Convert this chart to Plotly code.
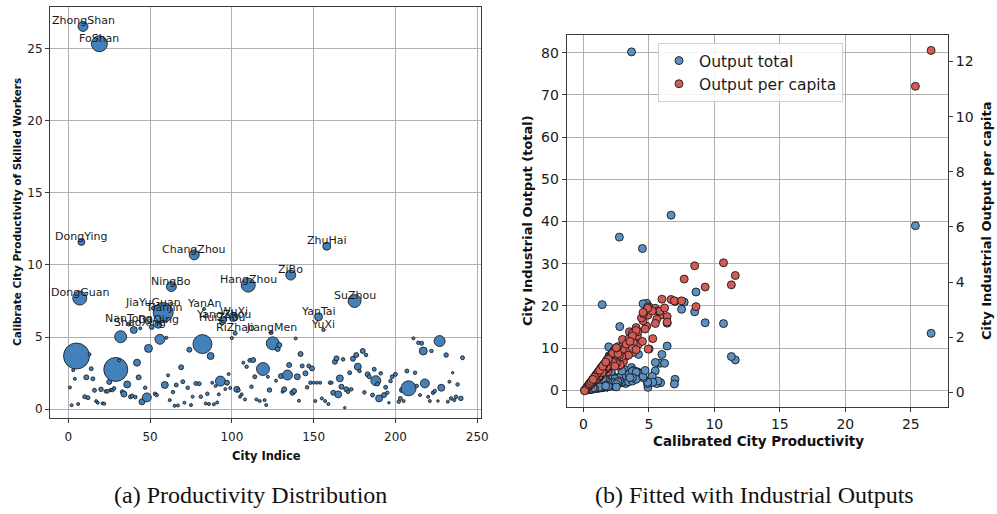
import math
import plotly.graph_objects as go

# ---------------------------------------------------------------------------
# City data: index, calibrated productivity, population weight (bubble size),
# total industrial output and industrial output per capita.
# ---------------------------------------------------------------------------
city_idx = [
    1, 2, 3, 4, 5, 6, 7, 8, 9, 10,
    11, 12, 13, 14, 15, 16, 17, 18, 19, 20,
    21, 22, 23, 24, 25, 26, 27, 28, 29, 31,
    32, 33, 34, 36, 37, 38, 39, 40, 41, 42,
    43, 44, 45, 47, 48, 49, 51, 52, 53, 54,
    55, 56, 58, 59, 60, 61, 62, 63, 64, 65,
    66, 67, 69, 70, 71, 73, 74, 75, 76, 77,
    78, 80, 81, 82, 83, 84, 85, 86, 87, 88,
    89, 90, 91, 92, 93, 94, 95, 96, 97, 98,
    99, 100, 101, 102, 103, 104, 105, 106, 107, 108,
    109, 110, 111, 112, 113, 114, 115, 117, 119, 120,
    121, 122, 123, 124, 125, 127, 128, 129, 130, 131,
    132, 134, 135, 136, 137, 138, 139, 140, 141, 142,
    143, 145, 146, 147, 148, 149, 150, 151, 152, 153,
    154, 155, 156, 157, 158, 159, 160, 161, 162, 163,
    164, 165, 166, 167, 168, 169, 170, 171, 172, 173,
    174, 175, 176, 177, 178, 180, 181, 182, 183, 184,
    186, 187, 188, 189, 190, 191, 193, 194, 195, 196,
    197, 198, 200, 202, 203, 204, 205, 207, 208, 211,
    212, 213, 214, 215, 216, 217, 218, 220, 221, 222,
    223, 224, 226, 227, 228, 231, 232, 233, 234, 235,
    236, 237, 238, 240, 241,
]

city_prod = [
    1.50, 0.27, 2.70, 2.10, 3.68, 0.35, 7.70, 11.60, 26.55, 0.86,
    2.20, 0.79, 3.80, 2.80, 2.10, 1.30, 0.55, 0.44, 25.35, 1.37,
    0.40, 0.37, 1.23, 1.23, 1.88, 1.32, 1.32, 1.44, 2.75, 3.38,
    5.02, 1.20, 1.04, 1.71, 5.90, 0.85, 0.92, 5.49, 0.83, 3.22,
    2.20, 5.60, 0.50, 1.48, 0.81, 4.21, 5.70, 7.00, 1.06, 0.97,
    5.85, 4.84, 6.70, 1.67, 4.95, 2.34, 0.62, 8.50, 1.18, 0.23,
    1.67, 0.25, 2.90, 1.90, 0.44, 1.48, 4.12, 0.28, 0.86, 10.70,
    1.78, 1.76, 0.86, 4.51, 6.95, 0.39, 1.06, 0.35, 3.68, 1.83,
    0.33, 1.60, 0.46, 1.02, 1.94, 6.00, 6.20, 1.39, 1.83, 2.43,
    1.46, 4.93, 6.40, 5.26, 1.37, 1.30, 0.86, 1.02, 3.22, 0.67,
    2.94, 8.60, 3.38, 1.55, 3.40, 2.24, 0.67, 0.56, 2.78, 0.62,
    0.28, 2.24, 1.32, 5.30, 4.56, 1.97, 4.17, 4.44, 2.29, 1.20,
    1.37, 2.36, 3.06, 9.30, 1.13, 1.25, 4.90, 2.24, 0.58, 3.82,
    2.99, 2.48, 1.51, 2.99, 1.83, 2.82, 1.83, 0.56, 1.83, 6.40,
    1.83, 0.74, 5.50, 0.56, 11.30, 0.35, 1.83, 1.83, 1.13, 3.28,
    3.52, 1.02, 2.13, 1.55, 3.45, 0.09, 1.37, 1.20, 2.52, 1.37,
    3.49, 7.50, 3.75, 2.94, 2.64, 4.03, 1.16, 3.75, 2.41, 2.24,
    0.97, 2.76, 1.97, 1.74, 0.74, 2.48, 0.97, 1.51, 1.13, 0.44,
    1.94, 2.24, 2.41, 0.51, 0.74, 1.32, 0.56, 2.64, 1.44, 4.91,
    2.52, 1.60, 4.60, 0.97, 4.56, 4.03, 1.78, 0.85, 0.56, 4.03,
    1.13, 1.25, 0.56, 4.72, 1.48, 3.75, 0.51, 1.90, 0.74, 2.52,
    0.62, 0.85, 1.71, 0.74, 3.56,
]

city_pop = [
    1.1, 1.1, 1.1, 1.1, 80.4, 1.1, 23.3, 5.8, 11.9, 1.9,
    3.0, 1.9, 1.1, 1.9, 1.9, 1.9, 1.1, 1.1, 30.4, 2.4,
    1.1, 1.1, 1.5, 1.5, 3.0, 1.5, 1.5, 1.5, 68.5, 1.1,
    17.1, 1.9, 4.3, 5.8, 1.9, 1.9, 1.5, 5.8, 1.5, 5.8,
    3.0, 1.1, 4.3, 1.5, 9.6, 7.6, 3.0, 1.9, 1.5, 1.5,
    5.8, 11.9, 47.6, 5.8, 1.1, 1.1, 1.1, 11.9, 1.5, 1.1,
    1.9, 1.1, 3.0, 1.9, 1.1, 1.5, 3.0, 1.1, 1.1, 11.9,
    1.9, 1.9, 1.5, 43.0, 1.1, 1.1, 1.5, 1.1, 5.8, 1.1,
    1.1, 1.1, 1.1, 1.1, 11.9, 3.0, 4.3, 1.1, 3.0, 1.1,
    1.1, 1.1, 9.6, 1.9, 4.3, 1.5, 1.1, 1.1, 1.1, 1.1,
    1.5, 23.3, 1.9, 1.5, 3.0, 1.9, 1.1, 1.1, 20.0, 1.1,
    1.1, 1.1, 2.4, 1.9, 20.0, 1.1, 3.0, 3.0, 3.0, 1.1,
    3.0, 11.9, 3.0, 11.9, 3.0, 3.0, 1.1, 4.3, 1.1, 3.0,
    1.9, 3.0, 1.5, 1.9, 1.5, 3.0, 1.1, 1.1, 1.1, 7.6,
    1.1, 1.1, 1.5, 1.1, 7.6, 1.1, 1.5, 1.1, 3.0, 3.0,
    3.0, 5.8, 5.8, 3.0, 1.5, 0.75, 3.0, 1.5, 1.9, 1.5,
    3.0, 20.0, 3.0, 5.8, 1.5, 3.0, 1.5, 1.5, 3.0, 1.9,
    1.9, 1.9, 11.9, 1.9, 5.8, 1.5, 3.0, 1.9, 1.5, 0.75,
    1.5, 1.9, 1.9, 1.5, 1.9, 3.0, 1.1, 1.9, 26.8, 1.1,
    1.5, 1.5, 1.5, 1.1, 1.9, 7.6, 9.6, 1.1, 1.1, 1.5,
    1.5, 1.5, 0.75, 14.4, 5.8, 2.4, 1.1, 1.1, 1.5, 0.75,
    1.1, 1.5, 1.5, 2.4, 1.9,
]

out_total = [
    1.2, 0.2, 2.1, 1.6, 80.2, 0.3, 20.9, 7.2, 13.5, 0.6,
    2.9, 0.5, 2.6, 3.2, 1.9, 1.2, 0.3, 0.3, 39.0, 1.5,
    0.2, 0.2, 0.9, 1.1, 2.4, 1.0, 0.8, 1.3, 36.3, 2.2,
    9.8, 1.1, 1.9, 3.5, 1.8, 0.7, 0.5, 4.6, 0.6, 4.8,
    2.5, 1.6, 0.9, 0.9, 2.1, 8.5, 2.2, 2.6, 0.6, 0.7,
    6.4, 20.6, 41.5, 3.3, 1.3, 1.0, 0.4, 18.6, 0.8, 0.1,
    1.3, 0.1, 2.6, 1.5, 0.3, 0.9, 4.4, 0.2, 0.4, 15.8,
    1.4, 1.2, 0.5, 33.6, 1.5, 0.2, 0.8, 0.2, 5.4, 0.8,
    0.2, 0.7, 0.3, 0.5, 10.3, 8.5, 6.4, 0.6, 2.0, 1.1,
    0.7, 0.7, 10.5, 3.3, 1.9, 0.8, 0.4, 0.5, 1.6, 0.3,
    1.8, 23.3, 2.4, 1.0, 3.8, 1.7, 0.3, 0.3, 15.1, 0.3,
    0.1, 1.0, 1.4, 1.9, 20.5, 0.9, 4.2, 3.9, 2.6, 0.5,
    1.8, 8.8, 3.6, 16.0, 1.4, 1.6, 1.6, 3.4, 0.3, 4.7,
    2.3, 2.9, 0.9, 2.1, 1.1, 3.1, 0.8, 0.3, 0.9, 15.9,
    0.8, 0.3, 6.6, 0.3, 8.0, 0.2, 1.0, 0.8, 1.4, 3.4,
    3.5, 2.0, 4.4, 1.9, 2.0, 0.05, 1.7, 0.8, 1.9, 0.9,
    3.8, 19.2, 4.5, 4.6, 1.7, 4.3, 0.8, 2.2, 2.7, 1.6,
    0.8, 2.2, 8.2, 1.3, 1.5, 1.6, 1.1, 1.2, 0.7, 0.2,
    1.1, 1.8, 1.9, 0.3, 0.5, 1.5, 0.3, 2.0, 20.3, 1.9,
    1.5, 1.0, 2.9, 0.4, 3.3, 11.9, 4.2, 0.4, 0.3, 2.6,
    0.7, 0.8, 0.2, 4.7, 2.8, 3.0, 0.3, 0.9, 0.4, 0.8,
    0.3, 0.5, 1.0, 0.6, 3.0,
]

out_pc = [
    0.95, 0.18, 0.95, 1.30, 2.05, 0.22, 4.11, 4.24, 12.40, 0.45,
    1.38, 0.48, 1.45, 1.25, 0.95, 0.82, 0.36, 0.22, 11.10, 0.88,
    0.26, 0.20, 0.80, 0.55, 0.75, 0.85, 0.62, 0.93, 1.05, 1.40,
    3.10, 0.76, 0.50, 1.10, 2.80, 0.55, 0.45, 3.05, 0.50, 1.55,
    1.05, 2.65, 0.30, 0.95, 0.52, 1.75, 2.95, 3.30, 0.68, 0.45,
    2.95, 2.40, 3.37, 1.06, 1.57, 1.50, 0.40, 4.59, 0.60, 0.15,
    1.05, 0.16, 1.15, 0.95, 0.29, 0.90, 2.05, 0.18, 0.54, 4.70,
    1.15, 0.85, 0.56, 1.85, 3.32, 0.25, 0.67, 0.22, 1.70, 1.18,
    0.20, 0.80, 0.30, 0.65, 1.24, 3.38, 3.06, 0.88, 0.90, 1.55,
    0.94, 2.80, 2.75, 2.95, 0.70, 0.84, 0.55, 0.50, 1.30, 0.43,
    1.45, 3.11, 1.90, 1.00, 1.50, 1.45, 0.42, 0.35, 1.20, 0.30,
    0.18, 1.40, 0.86, 1.95, 2.60, 1.00, 2.20, 2.70, 1.25, 0.77,
    0.65, 1.52, 1.10, 3.82, 0.72, 0.60, 3.10, 1.43, 0.37, 1.80,
    1.55, 1.20, 0.97, 1.92, 1.16, 1.00, 0.90, 0.36, 1.15, 2.55,
    1.18, 0.47, 2.50, 0.28, 3.90, 0.22, 1.14, 0.95, 0.73, 1.75,
    2.20, 0.66, 1.36, 0.99, 1.35, 0.06, 0.88, 0.60, 1.05, 0.87,
    1.95, 3.32, 1.60, 1.30, 1.66, 2.35, 0.74, 2.15, 1.52, 1.10,
    0.62, 1.35, 1.28, 1.10, 0.47, 1.57, 0.63, 0.75, 0.73, 0.28,
    1.24, 1.42, 0.95, 0.33, 0.48, 0.83, 0.36, 1.40, 0.72, 3.05,
    1.61, 1.02, 2.85, 0.62, 2.90, 2.25, 1.12, 0.54, 0.36, 1.55,
    0.72, 0.80, 0.36, 2.30, 0.95, 2.05, 0.33, 1.20, 0.47, 1.62,
    0.40, 0.55, 1.10, 0.47, 1.85,
]

# Named cities annotated on the productivity panel (keyed by city index)
city_labels = {
    9: "ZhongShan", 19: "FoShan", 8: "DongYing", 77: "ChangZhou",
    158: "ZhuHai", 136: "ZiBo", 63: "NingBo", 110: "HangZhou",
    7: "DongGuan", 175: "SuZhou", 52: "JiaYuGuan", 58: "TianJin",
    83: "YanAn", 101: "WuXi", 94: "HuiZhou", 95: "YangZhou",
    102: "RiZhao", 124: "JiangMen", 37: "NanTong", 55: "DaQing",
    44: "ShaoXing", 153: "YanTai", 156: "YuXi",
}

idx_ticks = [0, 50, 100, 150, 200, 250]
prod_ticks = [0, 5, 10, 15, 20, 25]
total_ticks = [0, 10, 20, 30, 40, 50, 60, 70, 80]
pc_ticks = [0, 2, 4, 6, 8, 10, 12]
calib_ticks = [0, 5, 10, 15, 20, 25]

W, H = 997, 514
FONT = "DejaVu Sans"
SERIF = "Liberation Serif"
GRID = "#b0b0b0"
SPINE = "#3a3a3a"


def px_x(p):
    return p / W


def px_y(p):
    return 1 - p / H


bubble_size = [2.9 * math.sqrt(p) for p in city_pop]

fig = go.Figure()

# (a) productivity of each city, bubble area ~ population
fig.add_trace(go.Scatter(
    x=city_idx, y=city_prod, mode="markers", showlegend=False,
    marker=dict(size=bubble_size, sizemode="diameter", color="#4480b9",
                opacity=1, line=dict(color="#111111", width=0.8)),
    xaxis="x", yaxis="y", hoverinfo="skip",
))

# (b) total output (left axis) and output per capita (right axis)
fig.add_trace(go.Scatter(
    x=city_prod, y=out_total, mode="markers", name="Output total",
    marker=dict(size=8, color="#5d90c2", opacity=1,
                line=dict(color="#1a1a1a", width=0.9)),
    xaxis="x2", yaxis="y2",
))
fig.add_trace(go.Scatter(
    x=city_prod, y=out_pc, mode="markers", name="Output per capita",
    marker=dict(size=8, color="#d35a55", opacity=1,
                line=dict(color="#1a1a1a", width=0.9)),
    xaxis="x2", yaxis="y3",
))

axis_common = dict(
    showgrid=True, gridcolor=GRID, gridwidth=1, zeroline=False,
    showline=True, linecolor=SPINE, linewidth=1, mirror=True,
    ticks="outside", ticklen=4, tickcolor=SPINE, automargin=False,
)

fig.update_layout(
    width=W, height=H,
    margin=dict(l=0, r=0, t=0, b=0),
    paper_bgcolor="white", plot_bgcolor="white",
    font=dict(family=FONT, color="#1a1a1a"),
    xaxis=dict(axis_common, domain=[px_x(50), px_x(480.5)], anchor="y",
               range=[-11.2, 252], tickvals=idx_ticks,
               tickfont=dict(size=12), ticklabelstandoff=4),
    yaxis=dict(axis_common, domain=[px_y(418), px_y(7)], anchor="x",
               range=[-0.62, 27.9], tickvals=prod_ticks,
               tickfont=dict(size=12)),
    xaxis2=dict(axis_common, domain=[px_x(566.7), px_x(948)], anchor="y2",
                range=[-1.27, 27.84], tickvals=calib_ticks,
                tickfont=dict(size=14)),
    yaxis2=dict(axis_common, domain=[px_y(407.3), px_y(35)], anchor="x2",
                range=[-4.03, 84.2], tickvals=total_ticks,
                tickfont=dict(size=14)),
    yaxis3=dict(overlaying="y2", side="right", anchor="x2",
                range=[-0.54, 12.96], tickvals=pc_ticks, showgrid=False,
                zeroline=False, showline=False, ticks="outside", ticklen=4,
                tickcolor=SPINE, tickfont=dict(size=14), automargin=False),
    legend=dict(x=px_x(658), y=px_y(43), xanchor="left", yanchor="top",
                bgcolor="rgba(255,255,255,0.85)", bordercolor="#d0d0d0",
                borderwidth=1, font=dict(size=15.5, family=FONT)),
)

annotations = []
for i, name in city_labels.items():
    k = city_idx.index(i)
    annotations.append(dict(
        x=i, y=city_prod[k], xref="x", yref="y", text=name,
        showarrow=False, xanchor="center", yanchor="bottom", yshift=-3,
        font=dict(size=11, family=FONT, color="#1a1a1a"),
    ))

titles = [
    ("<b>City Indice</b>", 266, 456, 0, 11.5),
    ("<b>Calibrate City Productivity of Skilled Workers</b>", 16.5, 212.5, -90, 10.5),
    ("<b>Calibrated City Productivity</b>", 758, 441, 0, 13.5),
    ("<b>City Industrial Output (total)</b>", 527, 221, -90, 13),
    ("<b>City Industrial Output per capita</b>", 986, 221, -90, 13),
]
for text, px, py, ang, size in titles:
    annotations.append(dict(
        x=px_x(px), y=px_y(py), xref="paper", yref="paper", text=text,
        showarrow=False, textangle=ang, xanchor="center", yanchor="middle",
        font=dict(size=size, family=FONT, color="#111111"),
    ))

captions = [
    ("(a) Productivity Distribution", 251, 495),
    ("(b) Fitted with Industrial Outputs", 754, 495),
]
for text, px, py in captions:
    annotations.append(dict(
        x=px_x(px), y=px_y(py), xref="paper", yref="paper", text=text,
        showarrow=False, xanchor="center", yanchor="middle",
        font=dict(size=24, family=SERIF, color="#111111"),
    ))

fig.update_layout(annotations=annotations)
fig.write_html("out.html")
